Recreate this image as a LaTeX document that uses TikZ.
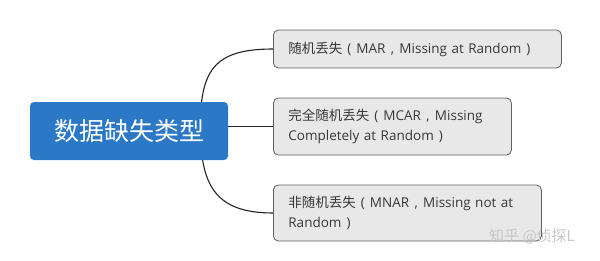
\documentclass[tikz,border=0pt]{standalone}
\usepackage{fontspec}
\setmainfont{Open Sans}
\newfontfamily\cjk{Noto Sans CJK SC}
\usetikzlibrary{positioning, backgrounds}
\definecolor{topicblue}{RGB}{42,120,198}
\definecolor{subfill}{RGB}{232,232,232}
\definecolor{subline}{RGB}{95,95,95}
\definecolor{linkgray}{RGB}{35,35,35}
\definecolor{textgray}{RGB}{55,55,55}
% full-width punctuation, centred in a one-em box
\newcommand{\fwlp}{\makebox[14pt]{(}}
\newcommand{\fwrp}{\makebox[14pt]{)}}
\newcommand{\fwcm}{\makebox[14pt]{,}}

\begin{document}
\begin{tikzpicture}[x=1pt, y=-1pt,
  topic/.style={fill=topicblue, rounded corners=4pt, minimum width=198pt, minimum height=58pt, text=white, font=\cjk\fontsize{25}{30}\selectfont},
  subtopic/.style={draw=subline, fill=subfill, rounded corners=5pt, line width=0.8pt, anchor=west, align=left, inner xsep=15pt, text=textgray, font=\fontsize{13.5}{20.5}\selectfont},
  link/.style={draw=linkgray, line width=1.1pt}]
  \useasboundingbox (0,0) rectangle (600,260);

  % central topic and its three branches
  \node[topic] (types) at (129,131) {数据缺失类型};
  \node[subtopic, text width=258pt, minimum height=38pt] (mar) at (273,49) {{\cjk 随机丢失}\fwlp MAR\fwcm Missing at Random\fwrp};
  \node[subtopic, text width=208pt, minimum height=57pt] (mcar) at (273,126.5) {{\cjk 完全随机丢失}\fwlp MCAR\fwcm Missing\\Completely at Random\fwrp};
  \node[subtopic, text width=238pt, minimum height=56pt] (mnar) at (273,213) {{\cjk 非随机丢失}\fwlp MNAR\fwcm Missing not at\\Random\fwrp};
  \coordinate (hub) at (200,127);

  \begin{scope}[on background layer]
    \draw[link] (hub) .. controls (201,72) and (212,49) .. (mar.west);
    \draw[link] (types.east |- mcar.west) -- (mcar.west);
    \draw[link] (hub) .. controls (201,182) and (212,213) .. (mnar.west);
  \end{scope}

  % watermark
  \node[text=black!22, font=\cjk\fontsize{15}{18}\selectfont] (mark) at (532,236) {知乎 @侦探L};
\end{tikzpicture}
\end{document}
